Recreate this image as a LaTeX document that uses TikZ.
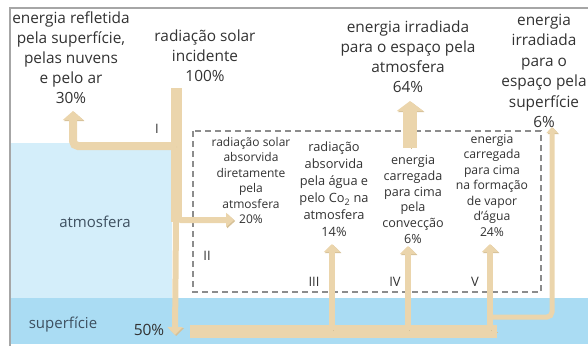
\documentclass[tikz,border=0pt]{standalone}
\usepackage{fontspec}
\setmainfont{Open Sans}
\usetikzlibrary{arrows.meta,positioning}
\definecolor{flowtan}{RGB}{235,213,172}
\definecolor{flowedge}{RGB}{214,193,152}
\definecolor{atmblue}{RGB}{212,238,250}
\definecolor{surfblue}{RGB}{170,220,243}
\definecolor{txtgray}{RGB}{50,50,50}
\definecolor{lblslate}{RGB}{62,80,96}

\begin{document}
\begin{tikzpicture}[x=1pt,y=-1pt,
 big/.style={align=center,anchor=north,inner sep=0pt,text=txtgray,font=\fontsize{15.4}{20}\selectfont},
 sml/.style={align=center,anchor=north,inner sep=0pt,text=txtgray,font=\fontsize{12}{15.5}\selectfont},
 num/.style={inner sep=0pt,text=txtgray,font=\fontsize{13}{14}\selectfont},
 zone/.style={inner sep=0pt,text=lblslate,font=\fontsize{15}{16}\selectfont},
 fl/.style={draw=flowtan,line width=#1,rounded corners=5pt,
   preaction={draw=flowedge,transform canvas={shift={(1.2pt,-1pt)}}}},
 ahd/.style={-{Triangle[#1]}}]
\useasboundingbox (0,0) rectangle (588,346);
% background bands and frame
\fill[atmblue] (10,143) rectangle (172,298);
\fill[surfblue] (10,298) rectangle (588,344);
\draw[gray!70,line width=1.6pt] (10,346) -- (10,8) -- (588,8);
\draw[gray!90,dashed,line width=1.1pt,dash pattern=on 6pt off 4pt] (193,131) rectangle (541,292);
% points of the flows
\coordinate (inc) at (176,88);
\coordinate (spl1) at (176,146);
\coordinate (refl) at (73,111);
\coordinate (spl2) at (176,210);
\coordinate (absd) at (234,220);
\coordinate (mid) at (176,222);
\coordinate (srf) at (175,335);
\coordinate (bl) at (190,331);
\coordinate (br) at (497,331);
\coordinate (w3) at (332,244);
\coordinate (w4) at (408,246);
\coordinate (w5) at (490,244);
\coordinate (rs) at (493,317);
\coordinate (sp) at (552,127);
\coordinate (at0) at (410,148);
\coordinate (at1) at (410,101);
% flows
\draw[fl=11] (inc) -- (mid);
\draw[fl=8,ahd={length=9pt,width=20pt}] (spl1) -| (refl);
\draw[fl=6,ahd={length=8pt,width=14pt}] (spl2) |- (absd);
\draw[fl=6,ahd={length=8pt,width=15pt}] (mid) -- (srf);
\draw[fl=5,ahd={length=6pt,width=11pt}] (rs) -| (sp);
\draw[fl=13] (bl) -- (br);
\draw[fl=6,ahd={length=8pt,width=16pt}] (332,330) -- (w3);
\draw[fl=6,ahd={length=8pt,width=16pt}] (408,330) -- (w4);
\draw[fl=6,ahd={length=8pt,width=16pt}] (490,330) -- (w5);
\draw[fl=14,ahd={length=10pt,width=26pt}] (at0) -- (at1);
% outer labels
\node[big] (refltxt) at (71,12) {energia refletida\\pela superfície,\\pelas nuvens\\e pelo ar\\30\%};
\node[big] (inctxt) at (205,30) {radiação solar\\incidente\\100\%};
\node[big] (atmtxt) at (408,21) {energia irradiada\\para o espaço pela\\atmosfera\\64\%};
\node[big,font=\fontsize{15.4}{20.4}\selectfont] (sptxt) at (544,14) {energia\\irradiada\\para o\\espaço pela\\superfície\\6\%};
% inner labels
\node[sml] (c1) at (251,137) {radiação solar\\absorvida\\diretamente\\pela\\atmosfera\\20\%};
\node[sml,font=\fontsize{12.8}{17}\selectfont] (c2) at (334,142) {radiação\\absorvida\\pela água e\\pelo Co\textsubscript{2} na\\atmosfera\\14\%};
\node[sml,font=\fontsize{12.6}{15.8}\selectfont] (c3) at (413,155) {energia\\carregada\\para cima\\pela\\convecção\\6\%};
\node[sml,font=\fontsize{12.2}{15.5}\selectfont] (c4) at (492,134) {energia\\carregada\\para cima\\na formação\\de vapor\\d'água\\24\%};
% roman numerals and zones
\node[num] (r1) at (157,129) {I};
\node[num] (r2) at (207,256) {II};
\node[num] (r3) at (314,282) {III};
\node[num] (r4) at (395,282) {IV};
\node[num] (r5) at (475,282) {V};
\node[zone] (zatm) at (95,222) {atmosfera};
\node[zone] (zsrf) at (63,325) {superfície};
\node[num,font=\fontsize{15.5}{16}\selectfont] (p50) at (149,330) {50\%};
\end{tikzpicture}
\end{document}
